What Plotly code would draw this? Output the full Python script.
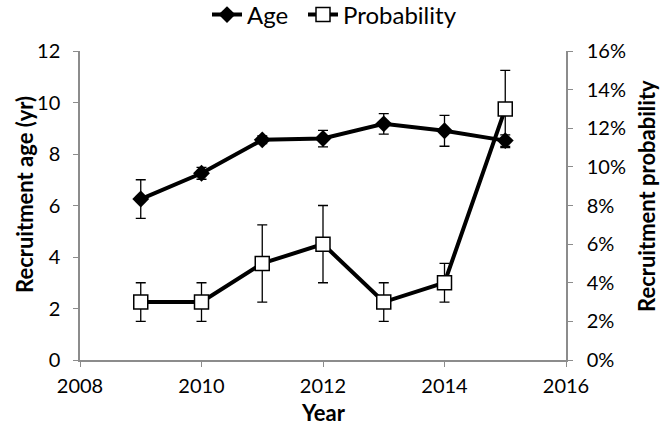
import plotly.graph_objects as go

years = [2009, 2010, 2011, 2012, 2013, 2014, 2015]
age = [6.25, 7.25, 8.55, 8.6, 9.17, 8.9, 8.52]
age_err = [0.75, 0.23, 0.15, 0.32, 0.4, 0.6, 0.22]
prob = [0.03, 0.03, 0.05, 0.06, 0.03, 0.04, 0.13]
prob_err = [0.01, 0.01, 0.02, 0.02, 0.01, 0.01, 0.02]

FONT = "Lato"
W, H = 663, 431
L, R, T, B = 80, 97, 51, 71
PW, PH = W - L - R, H - T - B

fig = go.Figure()
fig.add_trace(go.Scatter(
    x=years, y=age, name="Age", mode="lines+markers", legend="legend",
    line=dict(color="black", width=4),
    marker=dict(symbol="diamond", size=13, color="black"),
    error_y=dict(type="data", array=age_err, color="black", thickness=1.3, width=5),
))
fig.add_trace(go.Scatter(
    x=years, y=prob, name="Probability", mode="lines+markers", yaxis="y2", legend="legend2",
    line=dict(color="black", width=4),
    marker=dict(symbol="square", size=14, color="white", line=dict(color="black", width=1.5)),
    error_y=dict(type="data", array=prob_err, color="black", thickness=1.3, width=5),
))

axis_common = dict(showgrid=False, zeroline=False, showline=True, linecolor="#8c8c8c",
                   linewidth=1.5, ticks="outside", tickcolor="#8c8c8c", ticklen=5,
                   tickfont=dict(family=FONT, size=20, color="black"))

leg_common = dict(orientation="h", xanchor="left", xref="container", yref="container",
                  yanchor="middle", y=1 - 15 / H,
                  font=dict(family=FONT, size=24), bgcolor="rgba(0,0,0,0)")

title_font = dict(family=FONT, size=22, color="black")

fig.update_layout(
    width=W, height=H,
    margin=dict(l=L, r=R, t=T, b=B, autoexpand=False),
    paper_bgcolor="white", plot_bgcolor="white",
    font=dict(family=FONT, color="black"),
    xaxis=dict(range=[2008, 2016], dtick=2, tick0=2008, ticklabelstandoff=2, **axis_common),
    yaxis=dict(range=[0, 12], dtick=2, ticklabelstandoff=9, **axis_common),
    yaxis2=dict(range=[0, 0.16], dtick=0.02, tickformat=".0%", overlaying="y", side="right",
                ticklabelstandoff=10, **axis_common),
    legend=dict(x=207 / W, **leg_common),
    legend2=dict(x=303 / W, **leg_common),
    showlegend=True,
    annotations=[
        dict(text="<b>Year</b>", xref="paper", yref="paper", showarrow=False,
             x=0.5, y=-(412 - (T + PH)) / PH, xanchor="center", yanchor="middle", font=title_font),
        dict(text="<b>Recruitment age (yr)</b>", xref="paper", yref="paper", showarrow=False,
             textangle=-90, x=(24 - L) / PW, y=(T + PH - 195) / PH,
             xanchor="center", yanchor="middle", font=title_font),
        dict(text="<b>Recruitment probability</b>", xref="paper", yref="paper", showarrow=False,
             textangle=-90, x=(646 - L) / PW, y=(T + PH - 196) / PH,
             xanchor="center", yanchor="middle", font=title_font),
    ],
)

fig.write_html("out.html", config={"displayModeBar": False},
               post_script="document.body.style.margin='0';")
